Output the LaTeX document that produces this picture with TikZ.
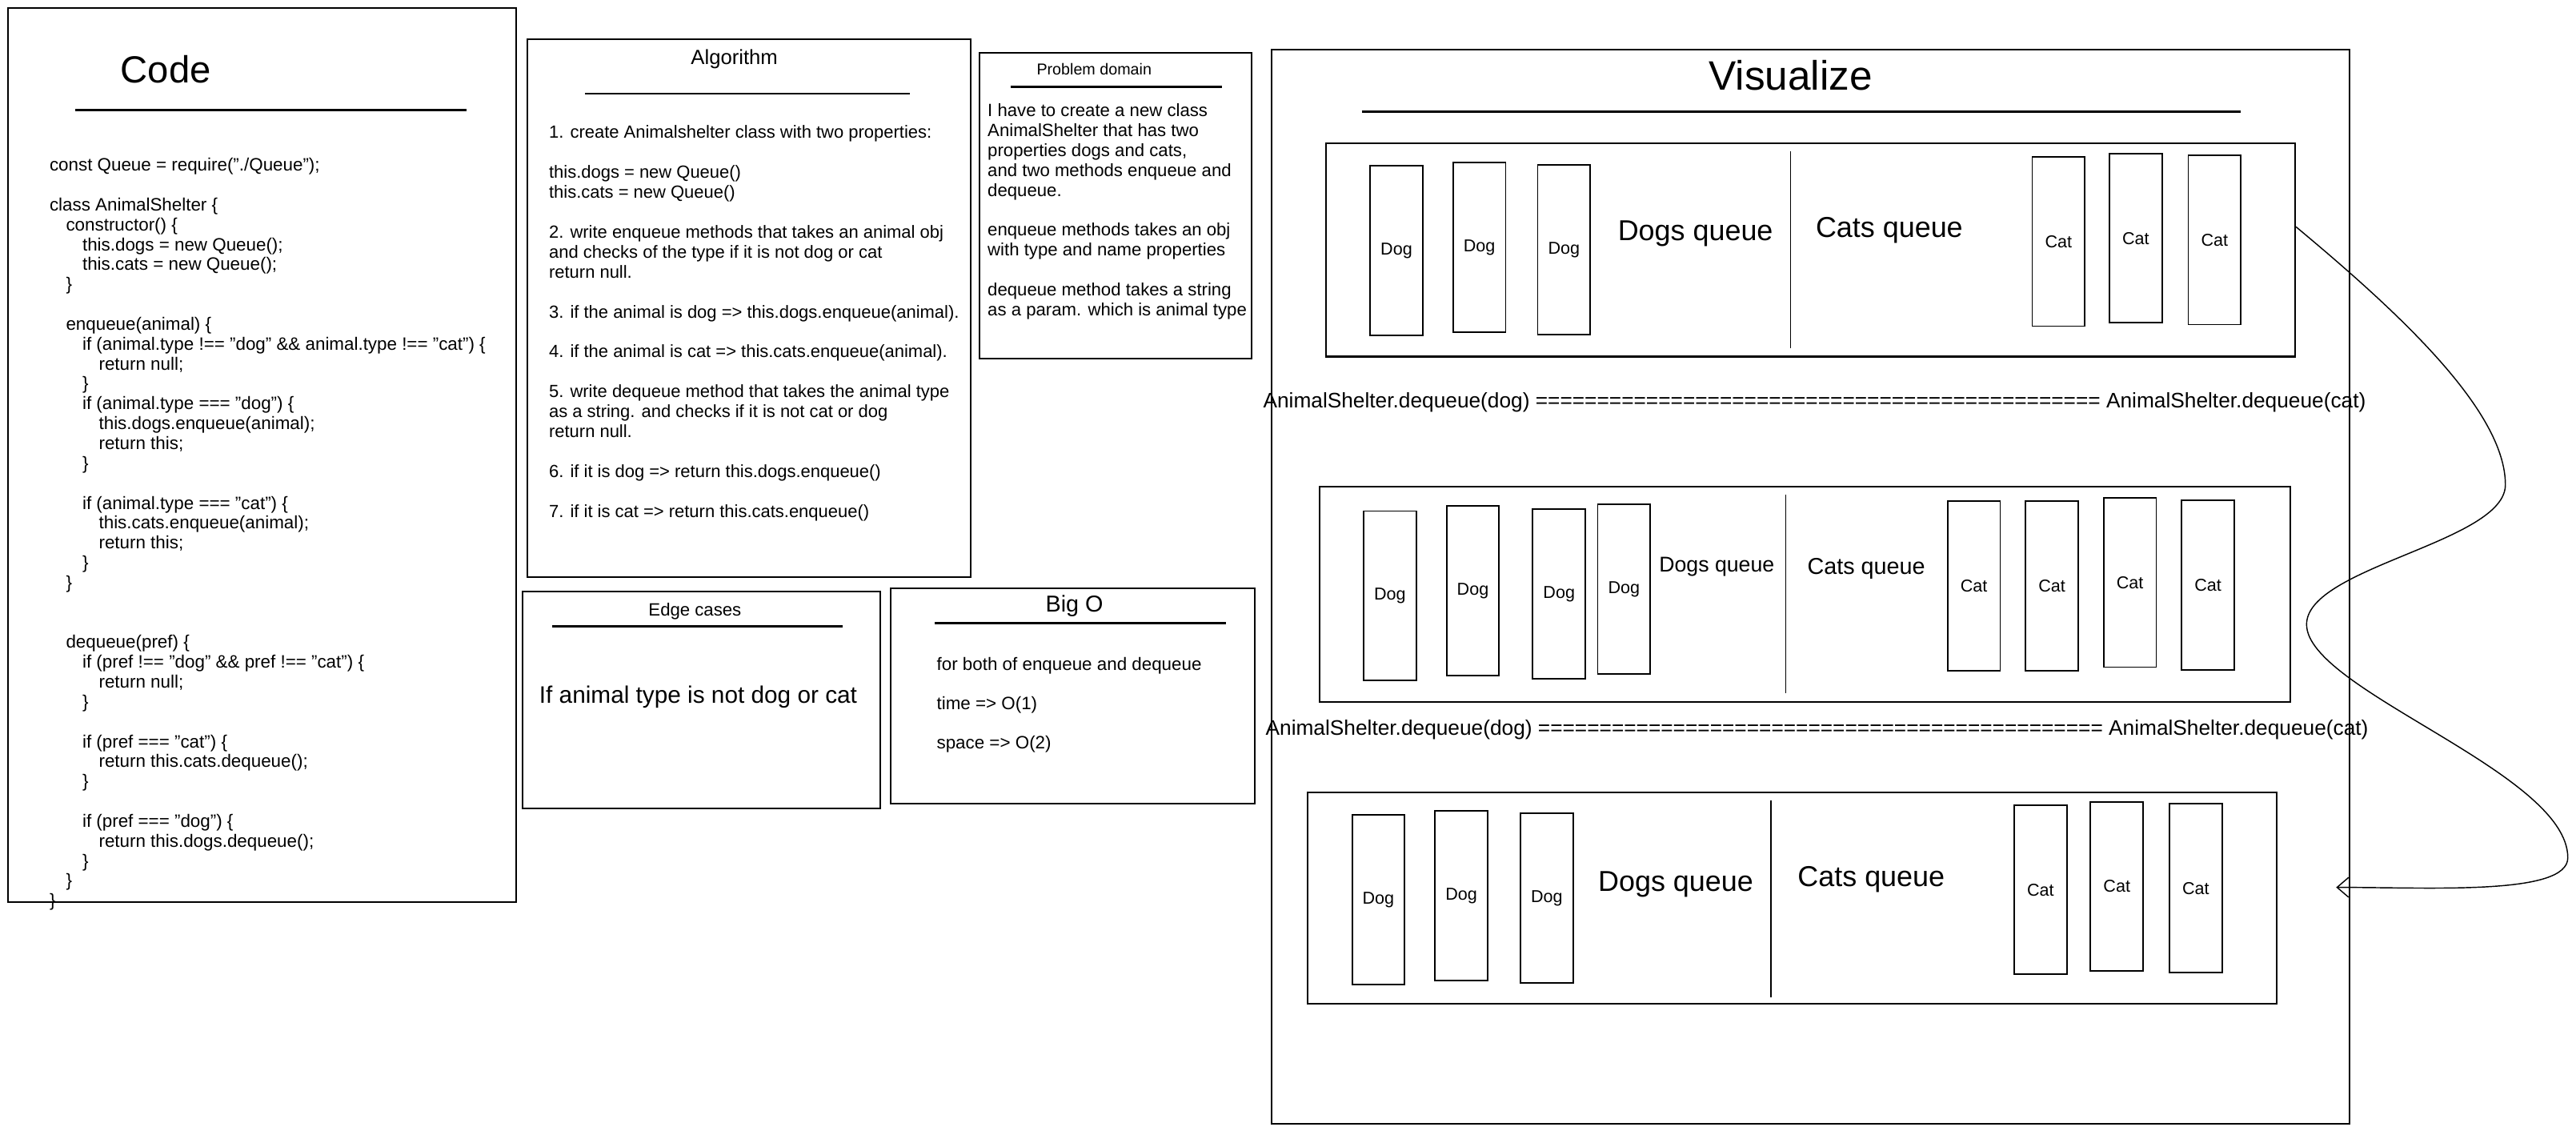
\documentclass[tikz,border=0pt]{standalone}
\usepackage{fontspec}
\setmainfont{Liberation Sans}
\usetikzlibrary{arrows.meta, positioning}

\tikzset{
  frame/.style={draw, line width=1pt, inner sep=0pt},
  rule/.style={line width=1.4pt},
  divider/.style={line width=0.7pt},
  card/.style={draw, line width=0.9pt, minimum width=32pt, minimum height=103pt, inner sep=0pt, font=\fontsize{10.5}{12}\selectfont},
  heading/.style={inner sep=0pt},
  body/.style={inner sep=0pt, align=left, anchor=north west},
  flow/.style={line width=0.7pt, -{Straight Barb[length=7pt,width=12pt]}},
}
\newcommand{\ind}[1]{\hspace*{#1}}

\begin{document}
\begin{tikzpicture}[x=1pt, y=-1pt]
\useasboundingbox (0,0) rectangle (1568,688);

% section boxes
\node (codebox) [frame, minimum width=309pt, minimum height=544pt] at (159.5,277) {};
\node (algobox) [frame, minimum width=270pt, minimum height=327pt] at (456,187.5) {};
\node (probbox) [frame, minimum width=166pt, minimum height=186pt] at (679,125) {};
\node (edgebox) [frame, minimum width=218pt, minimum height=132pt] at (427,426) {};
\node (bigobox) [frame, minimum width=222pt, minimum height=131pt] at (653,423.5) {};
\node (visbox) [frame, minimum width=656pt, minimum height=654pt] at (1102,357) {};

% titles and rules
\node (codett) [heading, font=\fontsize{23}{26}\selectfont] at (101,42) {Code};
\draw[rule] (46,67) -- (284,67);
\node (algott) [heading, font=\fontsize{12.5}{14}\selectfont] at (447,36) {Algorithm};
\draw[rule] (356,57) -- (554,57);
\node (probtt) [heading, font=\fontsize{9.6}{11}\selectfont] at (666,42) {Problem domain};
\draw[rule] (615,53) -- (744,53);
\node (edgett) [heading, font=\fontsize{10.8}{12}\selectfont] at (423,372) {Edge cases};
\draw[rule] (336,381) -- (513,381);
\node (bigott) [heading, font=\fontsize{14}{16}\selectfont] at (654,369) {Big O};
\draw[rule] (569,379) -- (746,379);
\node (vistt) [heading, font=\fontsize{25}{28}\selectfont] at (1090,46) {Visualize};
\draw[rule] (829,68) -- (1364,68);

% code
\node (code) [body, font=\fontsize{10.9}{12.1}\selectfont] at (30,96) {%
const Queue = require("./Queue");\\
\mbox{}\\
class AnimalShelter \{\\
\ind{10pt}constructor() \{\\
\ind{20pt}this.dogs = new Queue();\\
\ind{20pt}this.cats = new Queue();\\
\ind{10pt}\}\\
\mbox{}\\
\ind{10pt}enqueue(animal) \{\\
\ind{20pt}if (animal.type !== "dog" \&\& animal.type !== "cat") \{\\
\ind{30pt}return null;\\
\ind{20pt}\}\\
\ind{20pt}if (animal.type === "dog") \{\\
\ind{30pt}this.dogs.enqueue(animal);\\
\ind{30pt}return this;\\
\ind{20pt}\}\\
\mbox{}\\
\ind{20pt}if (animal.type === "cat") \{\\
\ind{30pt}this.cats.enqueue(animal);\\
\ind{30pt}return this;\\
\ind{20pt}\}\\
\ind{10pt}\}\\
\mbox{}\\
\mbox{}\\
\ind{10pt}dequeue(pref) \{\\
\ind{20pt}if (pref !== "dog" \&\& pref !== "cat") \{\\
\ind{30pt}return null;\\
\ind{20pt}\}\\
\mbox{}\\
\ind{20pt}if (pref === "cat") \{\\
\ind{30pt}return this.cats.dequeue();\\
\ind{20pt}\}\\
\mbox{}\\
\ind{20pt}if (pref === "dog") \{\\
\ind{30pt}return this.dogs.dequeue();\\
\ind{20pt}\}\\
\ind{10pt}\}\\
\}};

% algorithm
\node (algo) [body, font=\fontsize{10.7}{12.16}\selectfont] at (334,76) {%
1. create Animalshelter class with two properties:\\
\mbox{}\\
this.dogs = new Queue()\\
this.cats = new Queue()\\
\mbox{}\\
2. write enqueue methods that takes an animal obj\\
and checks of the type if it is not dog or cat\\
return null.\\
\mbox{}\\
3. if the animal is dog => this.dogs.enqueue(animal).\\
\mbox{}\\
4. if the animal is cat => this.cats.enqueue(animal).\\
\mbox{}\\
5. write dequeue method that takes the animal type\\
as a string. and checks if it is not cat or dog\\
return null.\\
\mbox{}\\
6. if it is dog => return this.dogs.enqueue()\\
\mbox{}\\
7. if it is cat => return this.cats.enqueue()};

% problem domain
\node (prob) [body, font=\fontsize{10.8}{12.1}\selectfont] at (601,63) {%
I have to create a new class\\
AnimalShelter that has two\\
properties dogs and cats,\\
and two methods enqueue and\\
dequeue.\\
\mbox{}\\
enqueue methods takes an obj\\
with type and name properties\\
\mbox{}\\
dequeue method takes a string\\
as a param. which is animal type};

% edge cases
\node (edge) [heading, font=\fontsize{14.5}{16}\selectfont] at (425,424) {If animal type is not dog or cat};

% big o
\node (bigoa) [heading, anchor=west, font=\fontsize{10.9}{12}\selectfont] at (570,405) {for both of enqueue and dequeue};
\node (bigob) [heading, anchor=west, font=\fontsize{10.9}{12}\selectfont] at (570,429) {time => O(1)};
\node (bigoc) [heading, anchor=west, font=\fontsize{10.9}{12}\selectfont] at (570,453) {space => O(2)};

% queue panels
\node (p1) [frame, minimum width=590pt, minimum height=130pt] at (1102,152) {};
\node (p2) [frame, minimum width=591pt, minimum height=131pt] at (1098.5,361.5) {};
\node (p3) [frame, minimum width=590pt, minimum height=129pt] at (1091,546.5) {};
\draw[divider] (1090,92) -- (1090,212);
\draw[divider] (1087,301) -- (1087,422);
\draw[divider] (1078,487) -- (1078,607);

\foreach \x/\y [count=\i] in {850/152.5, 900.5/150.5, 952/152,
    846/362.5, 896.5/359.5, 949/361.5, 988.5/358.5,
    839/547.5, 889.5/545, 941.5/546.5}
  \node (dog\i) [card] at (\x,\y) {Dog};
\foreach \x/\y [count=\i] in {1253/147, 1300/145, 1348/146,
    1201.5/356.5, 1249/356.5, 1296.5/354.5, 1344/356,
    1242/541.5, 1288.5/539.5, 1336.5/540.5}
  \node (cat\i) [card] at (\x,\y) {Cat};

\node (dq1) [heading, font=\fontsize{17.5}{20}\selectfont] at (1032,142) {Dogs queue};
\node (cq1) [heading, font=\fontsize{17.5}{20}\selectfont] at (1150,140) {Cats queue};
\node (dq2) [heading, font=\fontsize{13}{15}\selectfont] at (1045,345) {Dogs queue};
\node (cq2) [heading, font=\fontsize{14}{16}\selectfont] at (1136,346) {Cats queue};
\node (dq3) [heading, font=\fontsize{17.5}{20}\selectfont] at (1020,538) {Dogs queue};
\node (cq3) [heading, font=\fontsize{17.5}{20}\selectfont] at (1139,535) {Cats queue};

% dequeue rows
\node (row1) [heading, font=\fontsize{12.8}{14}\selectfont] at (1104.5,245)
  {AnimalShelter.dequeue(dog) ============================================== AnimalShelter.dequeue(cat)};
\node (row2) [heading, font=\fontsize{12.8}{14}\selectfont] at (1106,444)
  {AnimalShelter.dequeue(dog) ============================================== AnimalShelter.dequeue(cat)};

% loop arrow
\coordinate (tip) at (1422,540);
\draw[flow] ([yshift=14pt]p1.east) .. controls (1460,190) and (1525,250) .. (1525,295)
  .. controls (1525,330) and (1404,345) .. (1404,380)
  .. controls (1404,420) and (1563,470) .. (1563,522)
  .. controls (1563,545) and (1480,540) .. (tip);
\end{tikzpicture}
\end{document}
